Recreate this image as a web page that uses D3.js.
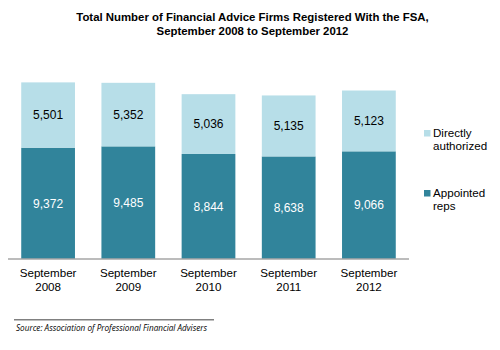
<!DOCTYPE html>
<html><head><meta charset="utf-8">
<script src="https://cdn.jsdelivr.net/npm/d3@7"></script>
<style>body{margin:0;background:#fff}svg{display:block}</style>
</head><body>
<script>
const categories = ["September 2008","September 2009","September 2010","September 2011","September 2012"];
const appointedReps = [9372, 9485, 8844, 8638, 9066];
const directlyAuthorized = [5501, 5352, 5036, 5135, 5123];
const seriesNames = ["Appointed reps","Directly authorized"];
const yMax = 16000;

const W = 500, H = 350;
const svg = d3.select("body").append("svg").attr("width", W).attr("height", H);
const font = "'Liberation Sans', Arial, sans-serif";
const colors = {"Appointed reps":"#31849B","Directly authorized":"#B7DEE8"};

// Title
["Total Number of Financial Advice Firms Registered With the FSA,","September 2008 to September 2012"].forEach((s,i)=>{
  svg.append("text").attr("text-anchor","middle").attr("font-family",font)
    .attr("font-weight","bold").attr("font-size",11.4).attr("fill","#000")
    .attr("x",252.5).attr("y",21+i*13.5).text(s);
});

const x = d3.scaleBand().domain(categories).range([8, 409]).paddingInner(0.33).paddingOuter(0.165);
const y = d3.scaleLinear().domain([0, yMax]).range([259, 69]);

const data = categories.map((c,i)=>({cat:c,"Appointed reps":appointedReps[i],"Directly authorized":directlyAuthorized[i]}));
const stack = d3.stack().keys(seriesNames)(data);

const g = svg.append("g");
stack.forEach(layer=>{
  const key = layer.key;
  g.selectAll(null).data(layer).enter().append("rect")
    .attr("x", d=>x(d.data.cat)).attr("width", x.bandwidth())
    .attr("y", d=>y(d[1])).attr("height", d=>y(d[0])-y(d[1]))
    .attr("fill", colors[key]);
  g.selectAll(null).data(layer).enter().append("text")
    .attr("x", d=>x(d.data.cat)+x.bandwidth()/2)
    .attr("y", d=>(y(d[0])+y(d[1]))/2)
    .attr("dy","0.36em").attr("text-anchor","middle")
    .attr("font-family",font).attr("font-size",12)
    .attr("fill", key==="Appointed reps" ? "#fff" : "#000")
    .text(d=>d3.format(",")(d.data[key]));
});

// X axis
const xAxis = d3.axisBottom(x).tickSize(0).tickPadding(0);
const ax = svg.append("g").attr("transform","translate(0,259)").call(xAxis);
ax.select(".domain").attr("stroke","#A6A6A6").attr("stroke-width",1.5).attr("d","M8,0H409");
ax.selectAll(".tick").each(function(d){
  const tick = d3.select(this);
  tick.select("text").remove();
  d.split(" ").forEach((s,i)=>{
    tick.append("text").attr("font-family",font).attr("font-size",11.6).attr("fill","#000")
      .attr("text-anchor","middle").attr("x",0).attr("y",18.4+i*13.3).text(s);
  });
});

// Legend
const legend = [
  {name:"Directly authorized", lines:["Directly","authorized"], y:130},
  {name:"Appointed reps", lines:["Appointed","reps"], y:190}
];
legend.forEach(l=>{
  svg.append("rect").attr("x",424).attr("y",l.y).attr("width",6.5).attr("height",6.5).attr("fill",colors[l.name]);
  l.lines.forEach((s,i)=>svg.append("text").attr("font-family",font).attr("font-size",11.6).attr("fill","#000")
    .attr("x",433).attr("y",l.y+7+i*13.3).text(s));
});

// Source
svg.append("line").attr("x1",14).attr("x2",214).attr("y1",319.7).attr("y2",319.7).attr("stroke","#808080").attr("stroke-width",1.5);
svg.append("text").attr("x",16).attr("y",330.5).attr("font-family","'Open Sans', 'Liberation Sans', sans-serif")
  .attr("font-style","italic").attr("font-size",8.5).attr("fill","#000")
  .attr("textLength",191).attr("lengthAdjust","spacingAndGlyphs")
  .text("Source: Association of Professional Financial Advisers");
</script>
</body></html>
